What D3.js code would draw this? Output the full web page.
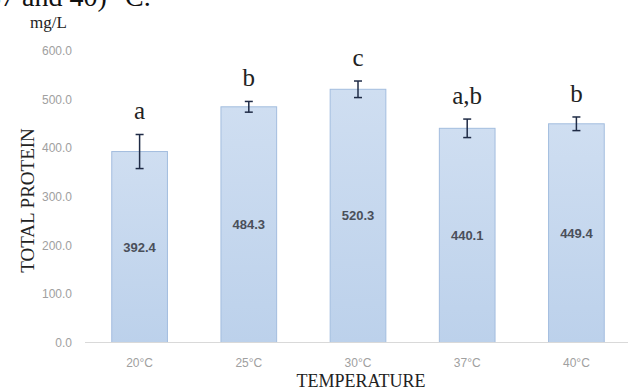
<!DOCTYPE html>
<html>
<head>
<meta charset="utf-8">
<script src="https://cdn.jsdelivr.net/npm/d3@7"></script>
<style>
  html, body { margin: 0; padding: 0; background: #fff; }
  svg { display: block; }
</style>
</head>
<body>
<svg id="chart"></svg>
<script>
// chart values
const temps = ["20°C", "25°C", "30°C", "37°C", "40°C"];
const means = [392.4, 484.3, 520.3, 440.1, 449.4];
const errs = [35, 11, 17, 19, 14];
const letters = ["a", "b", "c", "a,b", "b"];
const yTicks = [0, 100, 200, 300, 400, 500, 600];

const width = 631, height = 391;

const svg = d3.select("#chart")
    .attr("width", width)
    .attr("height", height);

// gradient for the bars
const grad = svg.append("defs").append("linearGradient")
    .attr("id", "barFill")
    .attr("x1", 0).attr("y1", 0).attr("x2", 0).attr("y2", 1);
grad.append("stop").attr("offset", "0%").attr("stop-color", "#cfdef1");
grad.append("stop").attr("offset", "100%").attr("stop-color", "#bcd1eb");

// scales
const x = d3.scaleBand()
    .domain(temps)
    .range([85, 631])
    .paddingInner(0.49)
    .paddingOuter(0.245);

const y = d3.scaleLinear()
    .domain([0, 600])
    .range([342.5, 50.5]);

// caption line of the page above, cut by the top edge as in the source
svg.append("text")
    .attr("x", -13)
    .attr("y", 6)
    .style("font-family", "'Liberation Serif', 'Times New Roman', serif")
    .style("font-size", "28px")
    .attr("fill", "#111")
    .text("37 and 40) °C.");

// unit label
svg.append("text")
    .attr("x", 30)
    .attr("y", 28)
    .style("font-family", "'Liberation Serif', 'Times New Roman', serif")
    .style("font-size", "17px")
    .attr("fill", "#222")
    .text("mg/L");

// y axis (labels only)
const yAxis = svg.append("g")
    .attr("transform", "translate(74,0)")
    .call(d3.axisLeft(y).tickValues(yTicks).tickFormat(d3.format(".1f")).tickSize(0).tickPadding(2));
yAxis.select(".domain").remove();
yAxis.selectAll("text")
    .style("font-family", "'Liberation Sans', Arial, sans-serif")
    .style("font-size", "12px")
    .attr("fill", "#a0a0a0");

// bars
svg.selectAll(".bar")
    .data(means)
    .enter()
    .append("rect")
    .attr("class", "bar")
    .attr("x", (_, i) => x(temps[i]))
    .attr("y", d => y(d))
    .attr("width", x.bandwidth())
    .attr("height", d => y(0) - y(d))
    .attr("fill", "url(#barFill)")
    .attr("stroke", "#a3bddf")
    .attr("stroke-width", 1);

// baseline
svg.append("line")
    .attr("x1", 85).attr("x2", 628)
    .attr("y1", y(0)).attr("y2", y(0))
    .attr("stroke", "#d9d9d9")
    .attr("stroke-width", 1.2);

// x axis labels
const xAxis = svg.append("g")
    .attr("transform", `translate(0,${y(0) + 13})`)
    .call(d3.axisBottom(x).tickSize(0).tickPadding(3));
xAxis.select(".domain").remove();
xAxis.selectAll("text")
    .style("font-family", "'Liberation Sans', Arial, sans-serif")
    .style("font-size", "12px")
    .attr("fill", "#a0a0a0");

// error bars
const cx = i => x(temps[i]) + x.bandwidth() / 2;
const eb = svg.append("g").attr("stroke", "#1f2b46").attr("stroke-width", 1.5);
eb.selectAll(".err")
    .data(means)
    .enter()
    .append("line")
    .attr("x1", (_, i) => cx(i)).attr("x2", (_, i) => cx(i))
    .attr("y1", (d, i) => y(d - errs[i]))
    .attr("y2", (d, i) => y(d + errs[i]));
eb.selectAll(".capTop")
    .data(means)
    .enter()
    .append("line")
    .attr("x1", (_, i) => cx(i) - 4).attr("x2", (_, i) => cx(i) + 4)
    .attr("y1", (d, i) => y(d + errs[i]))
    .attr("y2", (d, i) => y(d + errs[i]));
eb.selectAll(".capBot")
    .data(means)
    .enter()
    .append("line")
    .attr("x1", (_, i) => cx(i) - 4).attr("x2", (_, i) => cx(i) + 4)
    .attr("y1", (d, i) => y(d - errs[i]))
    .attr("y2", (d, i) => y(d - errs[i]));

// significance letters
svg.selectAll(".letter")
    .data(letters)
    .enter()
    .append("text")
    .attr("x", (_, i) => cx(i))
    .attr("y", (_, i) => y(means[i] + errs[i]) - 15)
    .attr("text-anchor", "middle")
    .style("font-family", "'Liberation Serif', 'Times New Roman', serif")
    .style("font-size", "25px")
    .attr("fill", "#222")
    .text(d => d);

// value labels in the middle of the bars
svg.selectAll(".val")
    .data(means)
    .enter()
    .append("text")
    .attr("x", (_, i) => cx(i))
    .attr("y", d => (y(d) + y(0)) / 2)
    .attr("dy", "0.35em")
    .attr("text-anchor", "middle")
    .style("font-family", "'Liberation Sans', Arial, sans-serif")
    .style("font-size", "13px")
    .style("font-weight", "bold")
    .attr("fill", "#4a4f5a")
    .text(d => d.toFixed(1));

// axis titles
svg.append("text")
    .attr("transform", `translate(34,${(y(0) + y(600)) / 2 + 4}) rotate(-90)`)
    .attr("text-anchor", "middle")
    .style("font-family", "'Liberation Serif', 'Times New Roman', serif")
    .style("font-size", "19px")
    .attr("fill", "#222")
    .text("TOTAL PROTEIN");

svg.append("text")
    .attr("x", 361)
    .attr("y", 387)
    .attr("text-anchor", "middle")
    .style("font-family", "'Liberation Serif', 'Times New Roman', serif")
    .style("font-size", "18px")
    .attr("fill", "#222")
    .text("TEMPERATURE");
</script>
</body>
</html>
